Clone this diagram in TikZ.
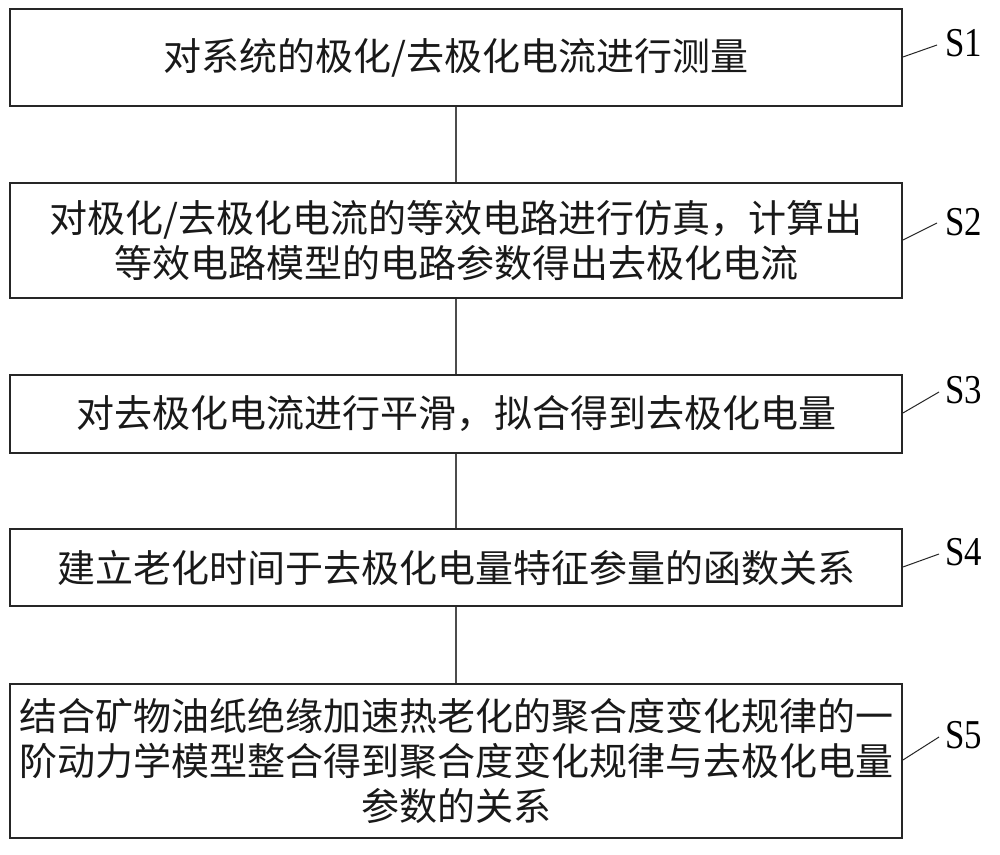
\documentclass[tikz,border=0pt]{standalone}
\usepackage{fontspec}
\newfontfamily\cjk{Noto Sans CJK SC}
\newfontfamily\lab{Liberation Serif}
\begin{document}
\begin{tikzpicture}[x=1pt,y=1pt,
  stepbox/.style={draw=black!85, line width=1.8pt, minimum width=892pt, inner sep=0pt,
    align=center, font=\cjk\fontsize{38}{45}\selectfont, text=black!90},
  link/.style={draw=black!70, line width=1.3pt},
  leader/.style={draw=black!85, line width=1pt},
  steplabel/.style={anchor=west, inner sep=0pt, font=\lab\fontsize{41}{41}\selectfont}]
\useasboundingbox (0,0) rectangle (1000,-854);
\fill[white] (0,0) rectangle (1000,-854);

\node[stepbox, minimum height=97pt]  (s1) at (456,-57.5) {对系统的极化/去极化电流进行测量};
\node[stepbox, minimum height=115pt] (s2) at (456,-240.5) {对极化/去极化电流的等效电路进行仿真，计算出\\等效电路模型的电路参数得出去极化电流};
\node[stepbox, minimum height=78pt]  (s3) at (456,-414) {对去极化电流进行平滑，拟合得到去极化电量};
\node[stepbox, minimum height=77pt]  (s4) at (456,-567.5) {建立老化时间于去极化电量特征参量的函数关系};
\node[stepbox, minimum height=154pt] (s5) at (456,-761) {结合矿物油纸绝缘加速热老化的聚合度变化规律的一\\阶动力学模型整合得到聚合度变化规律与去极化电量\\参数的关系};

\draw[link] (s1) -- (s2);
\draw[link] (s2) -- (s3);
\draw[link] (s3) -- (s4);
\draw[link] (s4) -- (s5);

\node[steplabel] (l1) at (945,-43) {\scalebox{0.85}[1]{S1}};
\node[steplabel] (l2) at (945,-222) {\scalebox{0.85}[1]{S2}};
\node[steplabel] (l3) at (945,-390) {\scalebox{0.85}[1]{S3}};
\node[steplabel] (l4) at (945,-552) {\scalebox{0.85}[1]{S4}};
\node[steplabel] (l5) at (945,-735) {\scalebox{0.85}[1]{S5}};

\coordinate (e1) at (937,-45);
\coordinate (e2) at (937,-223);
\coordinate (e3) at (939,-392);
\coordinate (e4) at (939,-554);
\coordinate (e5) at (939,-737);

\draw[leader] (s1.east |- 0,-57) -- (e1);
\draw[leader] (s2.east |- 0,-240) -- (e2);
\draw[leader] (s3.east |- 0,-413) -- (e3);
\draw[leader] (s4.east |- 0,-567) -- (e4);
\draw[leader] (s5.east |- 0,-760) -- (e5);
\end{tikzpicture}
\end{document}
